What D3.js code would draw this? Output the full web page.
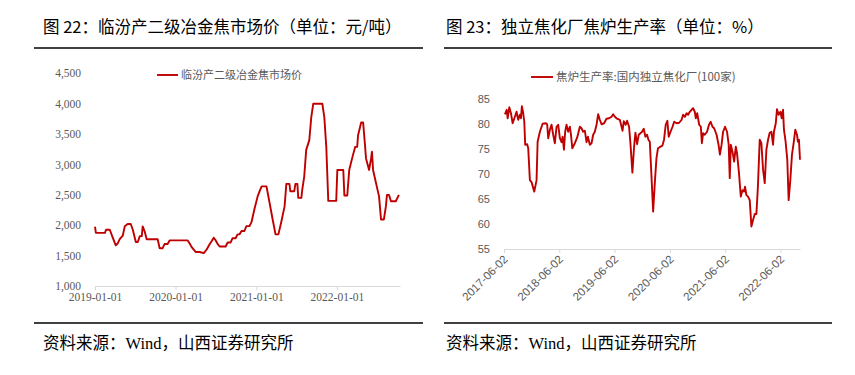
<!DOCTYPE html>
<html><head><meta charset="utf-8">
<script src="https://cdn.jsdelivr.net/npm/d3@7"></script>
<style>body{margin:0;background:#fff}svg{display:block}</style>
</head><body>
<svg id="c" width="855" height="375"></svg>
<script>
const titleLeft = "图 22：临汾产二级冶金焦市场价（单位：元/吨）";
const titleRight = "图 23：独立焦化厂焦炉生产率（单位：%）";
const sourceText = "资料来源：Wind，山西证券研究所";
const legendLeft = "临汾产二级冶金焦市场价";
const legendRight = "焦炉生产率:国内独立焦化厂(100家)";

const priceDates = ["2019-01-01","2019-01-05","2019-02-15","2019-02-20","2019-03-09","2019-03-22","2019-04-05","2019-04-14","2019-04-23","2019-05-07","2019-05-16","2019-05-29","2019-06-12","2019-06-21","2019-07-05","2019-07-14","2019-07-23","2019-08-01","2019-08-05","2019-08-14","2019-08-23","2019-10-12","2019-10-21","2019-11-03","2019-11-12","2019-11-26","2019-12-05","2020-02-25","2020-03-05","2020-03-14","2020-04-01","2020-04-19","2020-05-08","2020-05-21","2020-06-04","2020-06-13","2020-06-22","2020-07-01","2020-07-10","2020-07-19","2020-08-15","2020-08-24","2020-09-06","2020-09-15","2020-09-29","2020-10-08","2020-10-17","2020-10-26","2020-11-08","2020-11-17","2020-12-01","2020-12-10","2020-12-23","2021-01-07","2021-01-16","2021-01-25","2021-02-16","2021-03-02","2021-03-16","2021-03-29","2021-04-11","2021-04-25","2021-05-09","2021-05-17","2021-05-31","2021-06-04","2021-06-22","2021-06-27","2021-07-06","2021-07-10","2021-07-24","2021-07-28","2021-08-06","2021-08-15","2021-08-29","2021-09-07","2021-09-16","2021-10-27","2021-11-05","2021-11-14","2021-11-23","2021-12-29","2022-01-03","2022-01-30","2022-02-04","2022-02-17","2022-02-26","2022-03-11","2022-03-25","2022-04-03","2022-04-07","2022-04-21","2022-04-30","2022-05-09","2022-05-13","2022-05-27","2022-06-05","2022-06-09","2022-06-14","2022-06-27","2022-07-11","2022-07-20","2022-08-02","2022-08-11","2022-08-16","2022-08-25","2022-09-03","2022-09-25","2022-10-09"];
const priceValues = [1975,1875,1875,1925,1925,1800,1670,1700,1770,1830,1985,2020,2020,1930,1725,1725,1820,1820,1980,1900,1770,1770,1620,1620,1690,1690,1750,1750,1700,1640,1560,1560,1540,1600,1690,1740,1795,1750,1690,1650,1650,1715,1715,1785,1785,1850,1850,1905,1905,1985,1985,2050,2260,2475,2560,2640,2640,2370,2095,1850,1850,2070,2310,2680,2680,2560,2560,2680,2680,2450,2450,2580,2800,3240,3400,3780,4000,4000,3780,3290,2400,2400,2910,2910,2490,2490,2910,3100,3290,3290,3480,3690,3690,3290,3100,2910,3100,3210,2910,2700,2475,2095,2095,2310,2500,2500,2395,2395,2500];

const rateDates = ["2017-06-08","2017-06-20","2017-06-26","2017-07-07","2017-07-18","2017-07-29","2017-08-13","2017-08-24","2017-09-04","2017-09-15","2017-09-22","2017-09-28","2017-10-07","2017-10-14","2017-10-20","2017-11-02","2017-11-09","2017-11-20","2017-12-01","2017-12-19","2018-01-03","2018-01-10","2018-01-25","2018-02-12","2018-03-06","2018-03-14","2018-03-21","2018-04-01","2018-04-12","2018-04-23","2018-05-04","2018-05-15","2018-05-26","2018-06-06","2018-06-17","2018-06-24","2018-07-03","2018-07-11","2018-07-20","2018-07-31","2018-08-11","2018-08-18","2018-08-27","2018-09-13","2018-09-28","2018-10-16","2018-10-27","2018-11-07","2018-11-18","2018-11-29","2018-12-08","2018-12-21","2019-01-01","2019-01-12","2019-01-23","2019-02-03","2019-02-14","2019-02-25","2019-03-08","2019-03-25","2019-04-10","2019-04-27","2019-05-13","2019-05-24","2019-06-04","2019-06-15","2019-07-07","2019-07-25","2019-08-02","2019-08-15","2019-08-24","2019-09-06","2019-09-15","2019-09-28","2019-10-09","2019-10-18","2019-10-29","2019-11-09","2019-11-20","2019-12-01","2019-12-12","2019-12-23","2020-01-03","2020-01-12","2020-01-21","2020-01-30","2020-02-12","2020-02-23","2020-03-05","2020-03-15","2020-03-26","2020-04-13","2020-04-24","2020-05-05","2020-05-16","2020-05-25","2020-06-06","2020-06-19","2020-06-30","2020-07-16","2020-08-02","2020-08-18","2020-08-28","2020-09-09","2020-09-20","2020-09-30","2020-10-11","2020-10-23","2020-11-02","2020-11-13","2020-11-20","2020-11-29","2020-12-12","2020-12-23","2020-12-30","2021-01-07","2021-01-18","2021-02-02","2021-02-15","2021-02-26","2021-03-10","2021-03-21","2021-04-06","2021-04-19","2021-04-28","2021-05-09","2021-05-19","2021-06-01","2021-06-14","2021-06-25","2021-07-02","2021-07-09","2021-07-20","2021-07-31","2021-08-11","2021-08-19","2021-09-01","2021-09-13","2021-09-24","2021-10-04","2021-10-11","2021-10-20","2021-10-31","2021-11-11","2021-11-22","2021-12-03","2021-12-14","2021-12-25","2022-01-04","2022-01-16","2022-01-27","2022-02-07","2022-02-18","2022-03-01","2022-03-12","2022-03-23","2022-04-03","2022-04-14","2022-04-20","2022-05-02","2022-05-10","2022-05-21","2022-06-02","2022-06-10","2022-06-19","2022-06-25","2022-07-06","2022-07-17","2022-07-26","2022-08-06","2022-08-17","2022-08-28","2022-09-08","2022-09-19","2022-09-25","2022-10-02","2022-10-09"];
const rateValues = [82.0,82.9,81.2,83.4,82.2,80.2,81.5,82.5,80.9,81.9,81.2,83.6,82.2,80.5,75.9,76.0,75.2,68.8,68.4,66.5,68.8,76.5,78.5,80.1,80.2,80.0,77.2,78.9,79.9,77.9,76.2,79.5,79.9,77.2,76.4,77.5,74.9,78.5,79.9,78.5,79.5,78.0,75.2,76.2,77.3,79.5,79.2,78.5,78.7,76.4,77.5,75.9,76.2,77.9,78.5,79.9,82.0,80.9,80.0,80.2,81.1,81.2,81.5,82.0,81.5,81.2,80.9,78.7,80.6,79.9,80.7,79.5,76.2,70.3,75.4,78.3,76.0,77.9,78.2,78.5,79.1,77.5,77.9,76.9,76.5,70.9,62.5,68.2,73.2,75.2,75.4,75.7,76.9,79.9,80.7,77.5,78.5,79.5,80.5,80.2,80.3,80.9,81.9,81.5,82.2,81.9,82.5,82.9,83.2,82.5,81.2,82.2,79.9,79.5,76.2,78.2,77.9,78.5,79.9,80.5,79.5,79.2,77.9,75.9,73.9,75.9,78.5,79.5,78.5,75.9,69.2,75.9,74.5,72.5,75.5,74.2,70.2,65.5,66.8,66.5,67.5,65.8,65.5,64.8,59.5,60.8,62.0,62.0,67.5,76.9,76.2,70.9,68.2,74.9,76.9,78.3,78.5,75.9,78.5,80.2,83.0,81.9,82.5,81.2,82.9,78.9,76.5,72.9,64.8,68.8,73.9,76.2,78.9,77.9,76.5,76.9,72.9];

const priceTicksY = [1000,1500,2000,2500,3000,3500,4000,4500];
const priceTicksX = ["2019-01-01","2020-01-01","2021-01-01","2022-01-01"];
const rateTicksY = [55,60,65,70,75,80,85];
const rateTicksX = ["2017-06-02","2018-06-02","2019-06-02","2020-06-02","2021-06-02","2022-06-02"];

const parse = d3.timeParse("%Y-%m-%d");
const fmt = d3.timeFormat("%Y-%m-%d");
const svg = d3.select("#c");
const RED = "#c00000";
const AX = "#d9d9d9";
const LBL = "#595959";
const CJK = "'Noto Sans CJK SC', sans-serif";
const SERIF = "'Liberation Serif', 'Noto Sans CJK SC', serif";

function frame(x0, x1, tx, title) {
  svg.append("text").attr("x", tx).attr("y", 33).text(title)
    .attr("font-family", CJK).attr("font-size", 16.5).attr("fill", "#000");
  svg.append("line").attr("x1", x0).attr("x2", x1).attr("y1", 48).attr("y2", 48)
    .attr("stroke", "#000").attr("stroke-width", 1.3);
  svg.append("line").attr("x1", x0).attr("x2", x1).attr("y1", 323).attr("y2", 323)
    .attr("stroke", "#000").attr("stroke-width", 1.3);
  svg.append("text").attr("x", tx).attr("y", 349).text(sourceText)
    .attr("font-family", SERIF).attr("font-size", 16.5).attr("fill", "#000");
}
frame(34, 423, 43, titleLeft);
frame(444, 832, 446, titleRight);

// Left chart
{
  const x = d3.scaleTime().domain([parse("2019-01-01"), parse("2022-10-14")]).range([95, 400]);
  const y = d3.scaleLinear().domain([1000, 4500]).range([286, 73.3]);
  const g = svg.append("g");
  const ya = g.append("g").attr("transform", "translate(95,0)")
    .call(d3.axisLeft(y).tickValues(priceTicksY).tickFormat(d3.format(",")).tickSize(0).tickPadding(14));
  ya.select(".domain").remove();
  ya.selectAll("text").attr("font-family", SERIF).attr("font-size", 11.5).attr("fill", LBL);
  const xa = g.append("g").attr("transform", "translate(0,286)")
    .call(d3.axisBottom(x).tickValues(priceTicksX.map(parse)).tickFormat(fmt).tickSize(4).tickPadding(3).tickSizeOuter(0));
  xa.select(".domain").attr("stroke", AX);
  xa.selectAll(".tick line").attr("stroke", AX);
  xa.selectAll("text").attr("font-family", SERIF).attr("font-size", 11.5).attr("fill", LBL);
  const data = priceDates.map((d, i) => ({d: parse(d), v: priceValues[i]}));
  g.append("path").datum(data).attr("fill", "none").attr("stroke", RED).attr("stroke-width", 1.9)
    .attr("stroke-linejoin", "round")
    .attr("d", d3.line().x(p => x(p.d)).y(p => y(p.v)));
  g.append("line").attr("x1", 157).attr("x2", 178).attr("y1", 75).attr("y2", 75).attr("stroke", RED).attr("stroke-width", 1.9);
  g.append("text").attr("x", 181).attr("y", 75).attr("dy", "0.35em").text(legendLeft)
    .attr("font-family", CJK).attr("font-size", 11).attr("fill", LBL);
}

// Right chart
{
  const x = d3.scaleTime().domain([parse("2017-06-02"), parse("2022-10-09")]).range([504, 800]);
  const y = d3.scaleLinear().domain([55, 85]).range([249, 99.3]);
  const g = svg.append("g");
  const ya = g.append("g").attr("transform", "translate(504,0)")
    .call(d3.axisLeft(y).tickValues(rateTicksY).tickSize(0).tickPadding(14));
  ya.select(".domain").remove();
  ya.selectAll("text").attr("font-family", "'Liberation Sans', Arial, sans-serif").attr("font-size", 11).attr("fill", LBL);
  const xa = g.append("g").attr("transform", "translate(0,249)")
    .call(d3.axisBottom(x).tickValues(rateTicksX.map(parse)).tickFormat(fmt).tickSize(4).tickSizeOuter(0));
  xa.select(".domain").attr("stroke", AX);
  xa.selectAll(".tick line").attr("stroke", AX);
  xa.selectAll("text").attr("font-family", "'Liberation Sans', Arial, sans-serif").attr("font-size", 11.5).attr("fill", LBL)
    .attr("text-anchor", "end").attr("y", 0).attr("dy", 0)
    .attr("transform", "translate(4,11) rotate(-45)");
  const data = rateDates.map((d, i) => ({d: parse(d), v: rateValues[i]}));
  g.append("path").datum(data).attr("fill", "none").attr("stroke", RED).attr("stroke-width", 1.9)
    .attr("stroke-linejoin", "round")
    .attr("d", d3.line().x(p => x(p.d)).y(p => y(p.v)));
  g.append("line").attr("x1", 531).attr("x2", 553).attr("y1", 77).attr("y2", 77).attr("stroke", RED).attr("stroke-width", 1.9);
  g.append("text").attr("x", 556).attr("y", 77).attr("dy", "0.35em").text(legendRight)
    .attr("font-family", CJK).attr("font-size", 11.5).attr("fill", LBL);
}
</script>
</body></html>
